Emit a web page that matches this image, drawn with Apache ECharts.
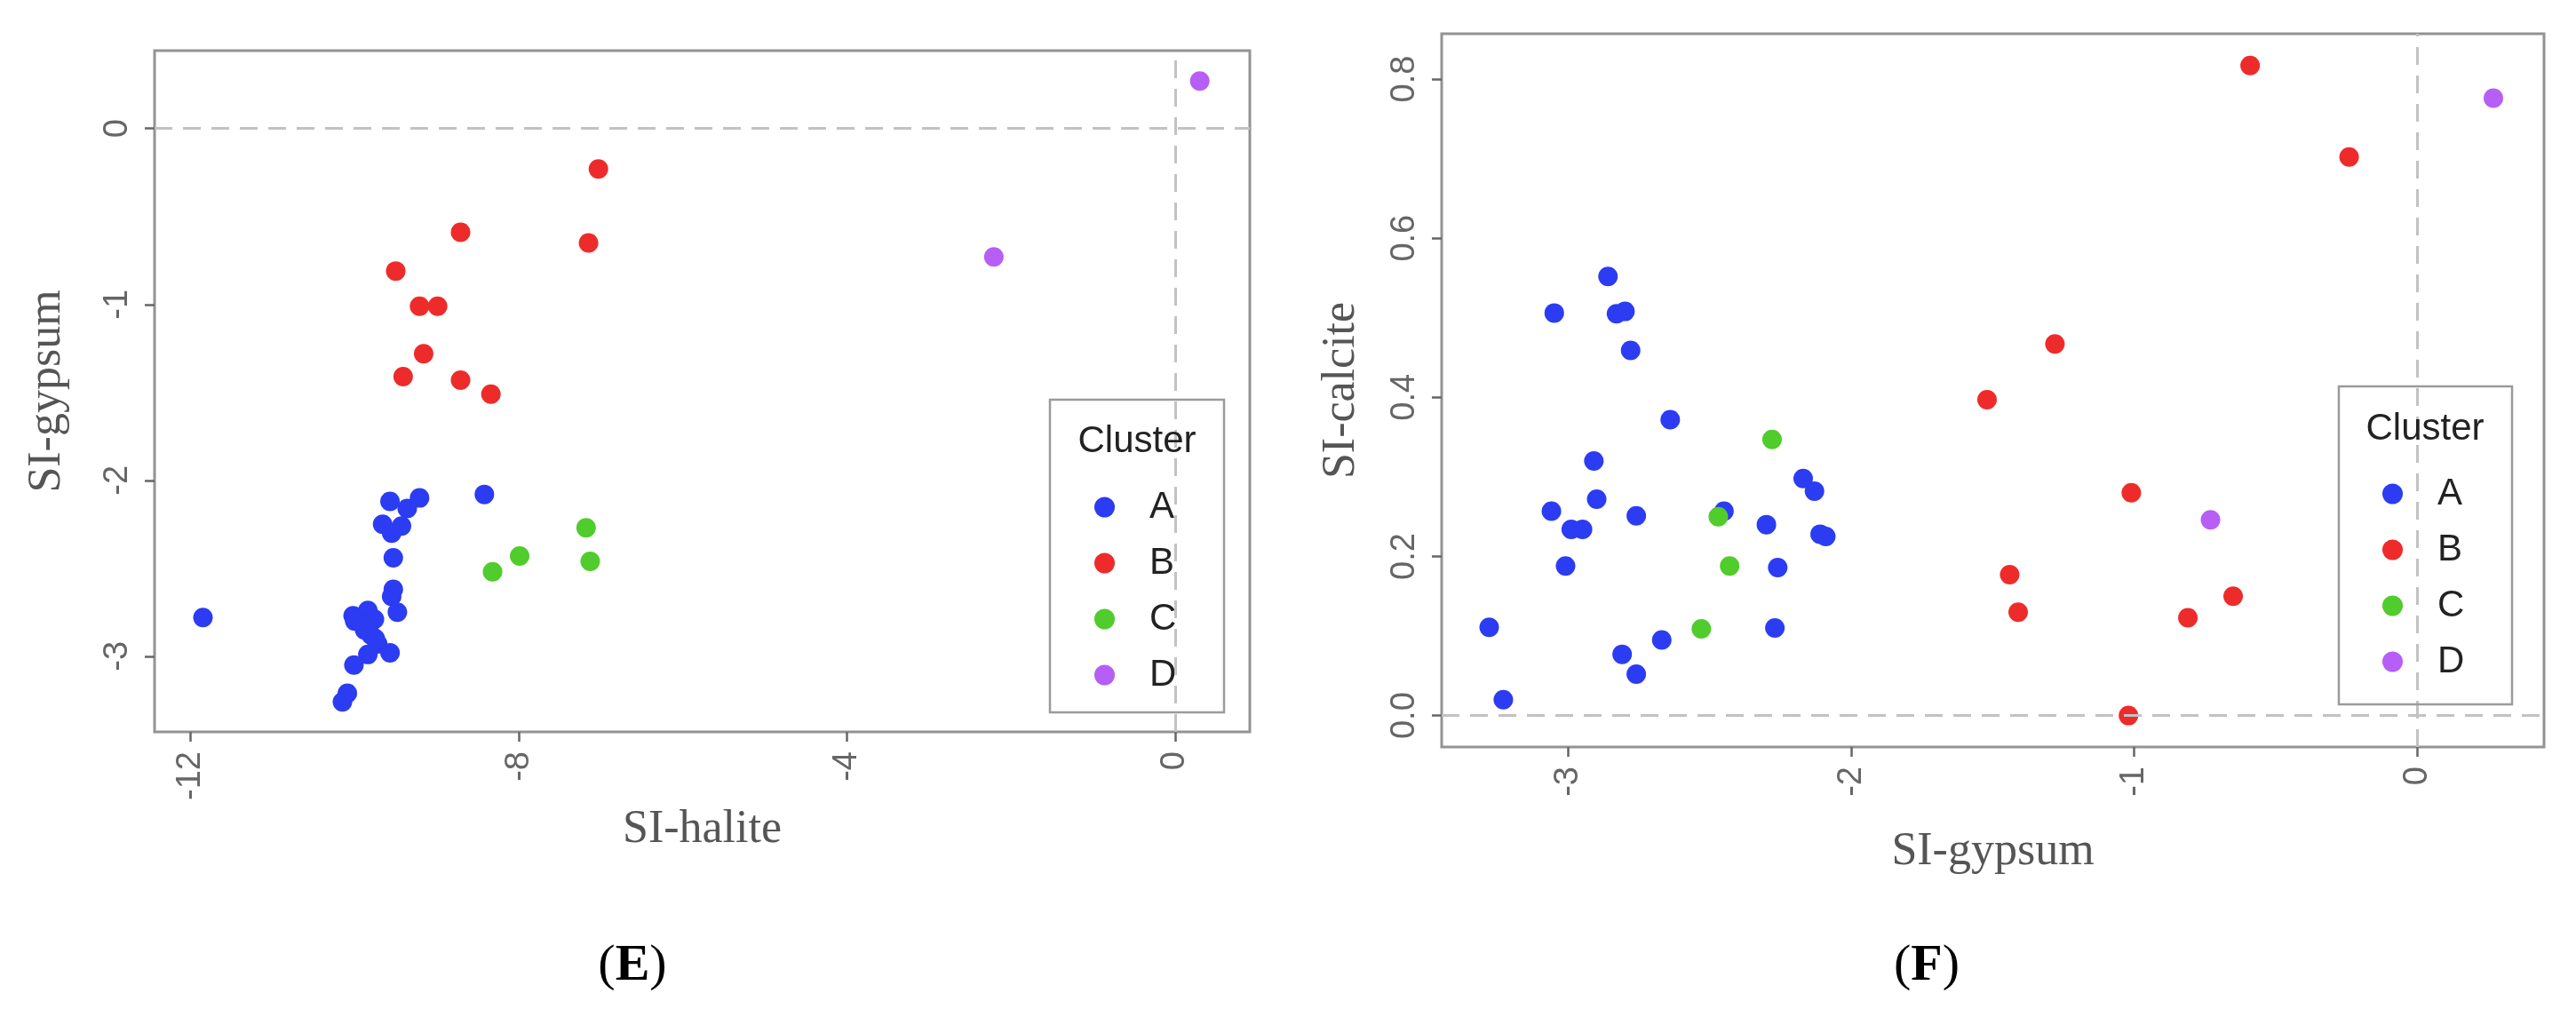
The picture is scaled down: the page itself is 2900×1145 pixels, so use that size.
<!DOCTYPE html>
<html>
<head>
<meta charset="utf-8">
<title>SI scatter E F</title>
<script src="https://cdn.jsdelivr.net/npm/echarts@6/dist/echarts.min.js"></script>
<style>
    html, body { margin: 0; padding: 0; background: #fff; }
    #chart { width: 2900px; height: 1145px; }
</style>
</head>
<body>
<div id="chart"></div>
<script>
// clusters and colours
const clusters = ['A', 'B', 'C', 'D']
const clusterColors = ['#2b3cf2', '#ee2b2b', '#50cc2c', '#b65ef5']

// panel E : [SI-halite, SI-gypsum]
const panelE_A = [
    [-11.85, -2.78], [-8.42, -2.08], [-9.57, -2.12], [-9.21, -2.10], [-9.36, -2.16],
    [-9.66, -2.25], [-9.43, -2.26], [-9.55, -2.30], [-9.53, -2.44], [-9.53, -2.62],
    [-9.55, -2.66], [-9.48, -2.75], [-10.02, -2.77], [-9.84, -2.74], [-9.76, -2.79],
    [-9.92, -2.81], [-10.0, -2.80], [-9.80, -2.88], [-9.88, -2.85], [-9.72, -2.93],
    [-9.75, -2.90], [-9.57, -2.98], [-9.84, -2.99], [-10.01, -3.05], [-10.09, -3.21],
    [-10.15, -3.26]
]
const panelE_B = [
    [-7.03, -0.23], [-8.71, -0.59], [-7.15, -0.65], [-9.50, -0.81], [-9.21, -1.01],
    [-8.99, -1.01], [-9.16, -1.28], [-9.41, -1.41], [-8.71, -1.43], [-8.34, -1.51]
]
const panelE_C = [[-7.18, -2.27], [-7.99, -2.43], [-7.13, -2.46], [-8.32, -2.52]]
const panelE_D = [[0.30, 0.27], [-2.21, -0.73]]

// panel F : [SI-gypsum, SI-calcite]
const panelF_A = [
    [-3.28, 0.111], [-3.23, 0.020], [-3.05, 0.506], [-2.86, 0.552], [-2.83, 0.505],
    [-2.80, 0.508], [-2.78, 0.459], [-2.64, 0.372], [-2.91, 0.320], [-3.06, 0.257],
    [-2.99, 0.234], [-2.95, 0.234], [-2.90, 0.272], [-2.76, 0.251], [-3.01, 0.188],
    [-2.81, 0.077], [-2.76, 0.052], [-2.67, 0.095], [-2.45, 0.257], [-2.30, 0.240],
    [-2.26, 0.186], [-2.27, 0.110], [-2.17, 0.298], [-2.13, 0.282], [-2.11, 0.228],
    [-2.09, 0.225]
]
const panelF_B = [
    [-0.59, 0.817], [-0.24, 0.702], [-1.28, 0.467], [-1.52, 0.397], [-1.01, 0.280],
    [-1.44, 0.177], [-1.41, 0.130], [-0.65, 0.150], [-0.81, 0.123], [-1.02, 0.000]
]
const panelF_C = [[-2.28, 0.347], [-2.47, 0.250], [-2.43, 0.188], [-2.53, 0.109]]
const panelF_D = [[0.27, 0.776], [-0.73, 0.246]]

// tick labels
const ticksE_x = [-12, -8, -4, 0]
const ticksE_y = [-3, -2, -1, 0]
const ticksF_x = [-3, -2, -1, 0]
const ticksF_y = [0, 0.2, 0.4, 0.6, 0.8]

const panelE = [panelE_A, panelE_B, panelE_C, panelE_D]
const panelF = [panelF_A, panelF_B, panelF_C, panelF_D]

;(() => {
    let _$ = (dom) => document.querySelector(dom)

    let tickFont = 'Liberation Sans'
    let titleFont = 'Liberation Serif'

    // 坐标轴公共样式
    let makeAxis = (opt) => {
        return {
            type: 'value',
            gridIndex: opt.grid,
            min: opt.min,
            max: opt.max,
            name: opt.name,
            nameLocation: 'middle',
            nameGap: opt.nameGap,
            nameTextStyle: { fontFamily: titleFont, fontSize: 52, color: '#555' },
            splitLine: { show: false },
            axisLine: { show: false, onZero: false },
            axisTick: {
                show: true,
                length: 11,
                customValues: opt.ticks,
                lineStyle: { color: '#666', width: 2.5 }
            },
            axisLabel: {
                customValues: opt.ticks,
                rotate: 90,
                margin: 22,
                fontFamily: tickFont,
                fontSize: 38,
                color: '#666',
                formatter: opt.fmt
            }
        }
    }

    let zeroLines = {
        silent: true,
        symbol: 'none',
        label: { show: false },
        lineStyle: { type: [20, 12], color: '#c2c2c2', width: 3 },
        data: [{ xAxis: 0 }, { yAxis: 0 }]
    }

    let series = []
    let addPanel = (sets, idx) => {
        sets.forEach((pts, i) => {
            let s = {
                name: clusters[i],
                type: 'scatter',
                xAxisIndex: idx,
                yAxisIndex: idx,
                symbolSize: 22,
                itemStyle: { color: clusterColors[i], opacity: 1 },
                data: pts
            }
            if (i === 0) {
                s.markLine = zeroLines
            }
            s.z = 3
            series.push(s)
        })
    }
    addPanel(panelE, 0)
    addPanel(panelF, 1)

    let makeLegend = (left, top) => {
        return {
            orient: 'vertical',
            left: left,
            top: top,
            padding: 0,
            selectedMode: false,
            data: clusters,
            icon: 'circle',
            itemWidth: 23,
            itemHeight: 23,
            itemGap: 21,
            textStyle: {
                fontFamily: tickFont,
                fontSize: 42,
                color: '#222',
                lineHeight: 40,
                padding: [0, 0, 0, 34]
            }
        }
    }

    let legendBox = (x, y, w, h, cx, cy) => {
        return [{
            type: 'rect',
            shape: { x: x, y: y, width: w, height: h },
            style: { fill: 'none', stroke: '#9a9a9a', lineWidth: 2.5 },
            z: 10
        }, {
            type: 'text',
            x: cx,
            y: cy,
            style: {
                text: 'Cluster',
                fontFamily: tickFont,
                fontSize: 42,
                fill: '#222',
                align: 'center',
                verticalAlign: 'middle'
            },
            z: 10
        }]
    }

    let panelLabel = (letter, x, y) => {
        return {
            type: 'text',
            x: x,
            y: y,
            style: {
                text: '({b|' + letter + '})',
                fontFamily: titleFont,
                fontSize: 58,
                fill: '#000',
                align: 'center',
                verticalAlign: 'middle',
                rich: {
                    b: { fontFamily: titleFont, fontSize: 58, fontWeight: 'bold', fill: '#000' }
                }
            }
        }
    }

    let option = {
        backgroundColor: '#fff',
        animation: false,
        grid: [
            { left: 174, top: 57, width: 1233, height: 767, show: true, borderColor: '#939393', borderWidth: 3 },
            { left: 1623, top: 38, width: 1241, height: 803, show: true, borderColor: '#939393', borderWidth: 3 }
        ],
        xAxis: [
            makeAxis({ grid: 0, min: -12.44, max: 0.91, ticks: ticksE_x, name: 'SI-halite', nameGap: 52 }),
            makeAxis({ grid: 1, min: -3.448, max: 0.449, ticks: ticksF_x, name: 'SI-gypsum', nameGap: 92 })
        ],
        yAxis: [
            makeAxis({ grid: 0, min: -3.43, max: 0.443, ticks: ticksE_y, name: 'SI-gypsum', nameGap: 95 }),
            makeAxis({ grid: 1, min: -0.0395, max: 0.857, ticks: ticksF_y, name: 'SI-calcite', nameGap: 87,
                fmt: (v) => v.toFixed(1) })
        ],
        legend: [makeLegend(1232, 550), makeLegend(2682, 535)],
        graphic: [].concat(
            legendBox(1182, 450, 196, 352, 1280, 497),
            legendBox(2633, 435, 195, 358, 2730, 483),
            [panelLabel('E', 712, 1088), panelLabel('F', 2169, 1088)]
        ),
        series: series
    }

    let myChart = echarts.init(_$('#chart'))
    myChart.setOption(option)
})()
</script>
</body>
</html>
